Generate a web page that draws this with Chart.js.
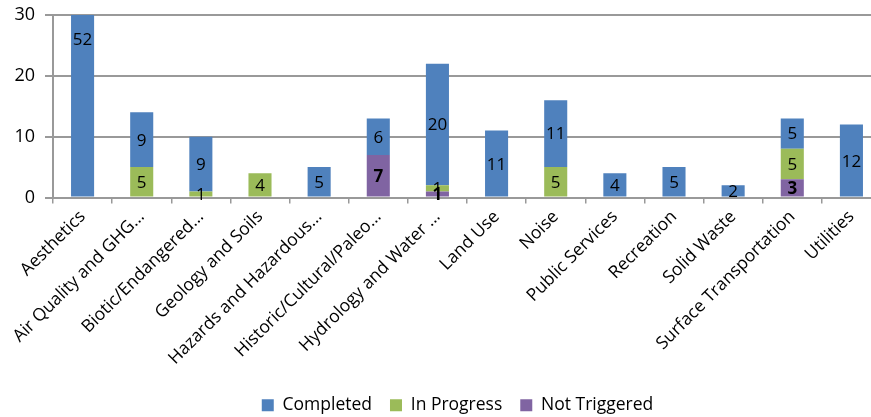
<!DOCTYPE html>
<html>
<head>
<meta charset="utf-8">
<script src="https://cdn.jsdelivr.net/npm/chart.js@4"></script>
<style>
    html, body { margin: 0; padding: 0; overflow: hidden; background: #fff; }
    #wrap { width: 914px; height: 424px; position: relative; }
</style>
</head>
<body>
<div id="wrap"><canvas id="chart"></canvas></div>
<script>
// Categories and counts per status
const categories = [
    'Aesthetics', 'Air Quality and GHG\u2026', 'Biotic/Endangered\u2026', 'Geology and Soils',
    'Hazards and Hazardous\u2026', 'Historic/Cultural/Paleo\u2026', 'Hydrology and Water \u2026',
    'Land Use', 'Noise', 'Public Services', 'Recreation', 'Solid Waste',
    'Surface Transportation', 'Utilities'
];
const completed    = [52, 9, 9, 0, 5, 6, 20, 11, 11, 4, 5, 2, 5, 12];
const inProgress   = [0, 5, 1, 4, 0, 0, 1, 0, 5, 0, 0, 0, 5, 0];
const notTriggered = [0, 0, 0, 0, 0, 7, 1, 0, 0, 0, 0, 0, 3, 0];
const yTicks = [0, 10, 20, 30];

const FONT = "'Open Sans', 'DejaVu Sans', sans-serif";

// Value labels drawn in the middle of each segment
const segmentLabels = {
    id: 'segmentLabels',
    afterDatasetsDraw(chart) {
        const ctx = chart.ctx;
        const yScale = chart.scales.y;
        ctx.save();
        ctx.textAlign = 'center';
        ctx.textBaseline = 'middle';
        ctx.fillStyle = '#000';
        chart.data.datasets.forEach((ds, i) => {
            const meta = chart.getDatasetMeta(i);
            meta.data.forEach((bar, j) => {
                const v = ds.data[j];
                if (!v) return;
                let base = 0;
                for (let k = 0; k < i; k++) base += chart.data.datasets[k].data[j];
                const y = yScale.getPixelForValue(base + v / 2);
                ctx.font = (ds.boldLabels ? 'bold ' : '') + '17px ' + FONT;
                ctx.fillText(String(v), bar.x, y + 1);
            });
        });
        ctx.restore();
    }
};

// legend sits a little right of the plot's centre in the original
const shiftLegend = {
    id: 'shiftLegend',
    afterLayout(chart) {
        if (chart.legend) {
            chart.legend.left += 17;
            chart.legend.right += 17;
        }
    }
};

const ctx = document.getElementById('chart').getContext('2d');
new Chart(ctx, {
    type: 'bar',
    data: {
        labels: categories,
        datasets: [
            { label: 'Not Triggered', data: notTriggered, backgroundColor: '#8064A2', boldLabels: true },
            { label: 'In Progress', data: inProgress, backgroundColor: '#9BBB59' },
            { label: 'Completed', data: completed, backgroundColor: '#4F81BD' }
        ]
    },
    options: {
        responsive: true,
        maintainAspectRatio: false,
        animation: false,
        barPercentage: 0.39,
        categoryPercentage: 1,
        layout: { padding: { top: 15, right: 33, bottom: 0, left: 0 } },
        scales: {
            x: {
                stacked: true,
                grid: {
                    offset: true,
                    drawOnChartArea: false,
                    drawTicks: true,
                    tickLength: 6,
                    color: '#999',
                    lineWidth: 1.5
                },
                border: { color: '#999', width: 2 },
                ticks: {
                    color: '#000',
                    font: { family: FONT, size: 17.5 },
                    minRotation: 45,
                    maxRotation: 45,
                    autoSkip: false,
                    padding: 3
                },
                afterFit(scale) { scale.height = 181; }
            },
            y: {
                stacked: true,
                min: 0,
                max: 30,
                afterBuildTicks(scale) { scale.ticks = yTicks.map(v => ({ value: v })); },
                grid: { color: '#999', lineWidth: 2, tickLength: 8 },
                border: { color: '#999', width: 2 },
                ticks: {
                    color: '#000',
                    font: { family: FONT, size: 18 },
                    padding: 10
                },
                afterFit(scale) {
                    scale.width = 53;
                    scale.paddingTop = 0;
                    scale.paddingBottom = 0;
                }
            }
        },
        plugins: {
            legend: {
                position: 'bottom',
                labels: {
                    color: '#000',
                    font: { family: FONT, size: 17.5 },
                    boxWidth: 12,
                    boxHeight: 12,
                    padding: 18,
                    sort: (a, b) => b.datasetIndex - a.datasetIndex
                }
            },
            tooltip: { enabled: false }
        }
    },
    plugins: [segmentLabels, shiftLegend]
});
</script>
</body>
</html>
